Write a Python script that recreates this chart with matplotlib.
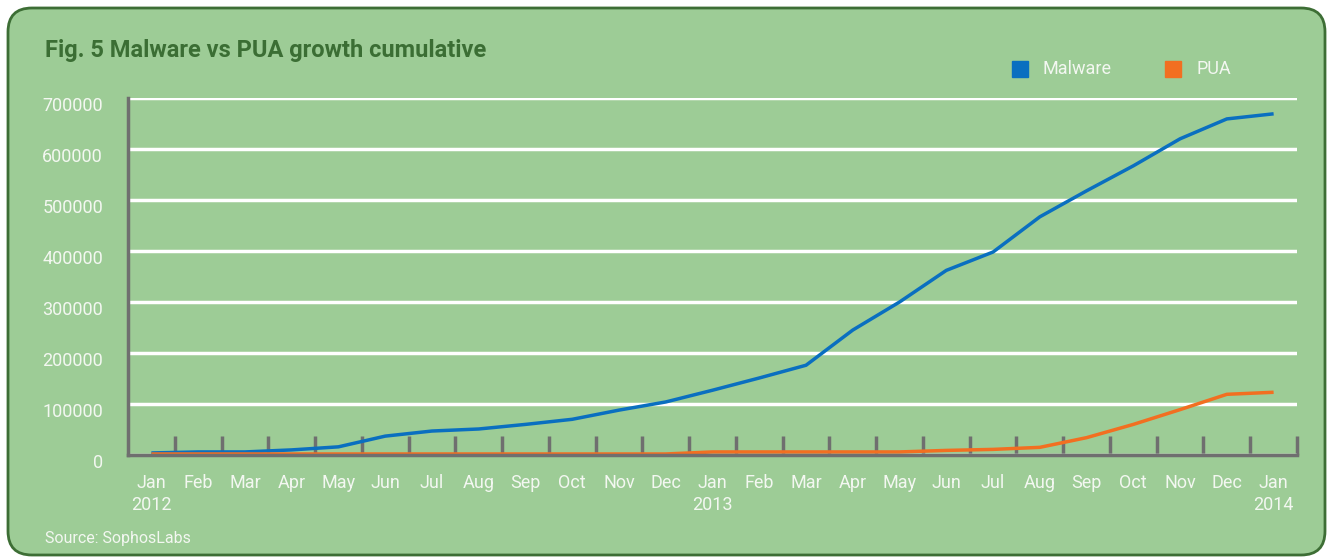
"""Fig. 5 Malware vs PUA growth cumulative (SophosLabs)."""

import matplotlib.pyplot as plt
import matplotlib.transforms as mtransforms
from matplotlib.patches import FancyBboxPatch

months = ["Jan", "Feb", "Mar", "Apr", "May", "Jun", "Jul", "Aug", "Sep",
          "Oct", "Nov", "Dec"] * 2 + ["Jan"]
years = {0: "2012", 12: "2013", 24: "2014"}

malware = [4000, 6000, 6000, 10000, 16000, 37000, 47000, 51000, 60000,
           70000, 88000, 104000, 127000, 151000, 176000, 245000, 300000,
           362000, 398000, 467000, 518000, 567000, 620000, 659000, 669000]
pua = [2000, 2000, 2000, 2000, 2000, 2000, 2000, 2000, 2000, 2000, 2000,
       2000, 6000, 6000, 6000, 6000, 6000, 9000, 11000, 15000, 34000,
       60000, 89000, 119000, 123000]

bg = "#9dcc96"
txt = "#f3f7f1"
blue = "#0a6fc0"
orange = "#f26f21"
axis_grey = "#6f6f6f"

W, H = 1327, 558
fig = plt.figure(figsize=(W / 100, H / 100), dpi=100)
fig.patch.set_facecolor("white")

# rounded green panel
box = FancyBboxPatch((8 / W, 3 / H), (W - 10) / W, (H - 11) / H,
                     boxstyle="round,pad=0,rounding_size=0.018",
                     transform=fig.transFigure, facecolor=bg,
                     edgecolor="#3d6e35", linewidth=2, mutation_aspect=W / H,
                     zorder=-5)
fig.patches.append(box)

ax = fig.add_axes([128 / W, 103 / H, (1297 - 128) / W, (455 - 98) / H])
ax.set_facecolor("none")
ax.set_zorder(2)

x = list(range(len(months)))
ax.plot(x, malware, color=blue, lw=2.5, zorder=3, solid_capstyle="butt")
ax.plot(x, pua, color=orange, lw=2.5, zorder=3, solid_capstyle="butt")

ax.set_xlim(-0.5, len(months) - 0.5)
ax.set_ylim(0, 700000)

ax.set_yticks(range(0, 700001, 100000))
ax.set_yticklabels([str(v) for v in range(0, 700001, 100000)])
ax.yaxis.grid(True, color="white", lw=2.5, zorder=1)
ax.set_axisbelow(True)
ax.tick_params(axis="y", length=0, pad=18, labelsize=13, labelcolor=txt)
offset = mtransforms.ScaledTranslation(0, -6 / 100, fig.dpi_scale_trans)
for lab in ax.get_yticklabels():
    lab.set_transform(lab.get_transform() + offset)
    lab.set_fontfamily("Roboto")

# boundaries get the tick marks, centres get the labels
ax.set_xticks([i + 0.5 for i in range(len(months))])
ax.set_xticklabels([])
ax.tick_params(axis="x", which="major", direction="in", length=14, width=2.5,
               color=axis_grey)
ax.set_xticks(x, minor=True)
ax.set_xticklabels([m + ("\n" + years[i] if i in years else "")
                    for i, m in enumerate(months)], minor=True)
ax.tick_params(axis="x", which="minor", length=0, pad=14, labelsize=13,
               labelcolor=txt)
for lab in ax.get_xticklabels(minor=True):
    lab.set_fontfamily("Roboto")
    lab.set_linespacing(1.25)
    lab.set_verticalalignment("top")

for side in ["top", "right"]:
    ax.spines[side].set_visible(False)
for side in ["left", "bottom"]:
    ax.spines[side].set_color(axis_grey)
    ax.spines[side].set_linewidth(2.5)
    ax.spines[side].set_zorder(4)

fig.text(45 / W, 1 - 50 / H, "Fig. 5 Malware vs PUA growth cumulative",
         fontsize=17, fontweight="bold", color="#3b6e34", va="center",
         family="Roboto")

# legend
for x0, col, name in [(1012, blue, "Malware"), (1165, orange, "PUA")]:
    fig.patches.append(plt.Rectangle((x0 / W, 1 - 77 / H), 16 / W, 16 / H,
                                     transform=fig.transFigure, color=col))
    fig.text((x0 + 31) / W, 1 - 69 / H, name, fontsize=13, color=txt,
             va="center", family="Roboto")

fig.text(45 / W, 1 - 538 / H, "Source: SophosLabs", fontsize=11.5,
         color=txt, va="center", family="Roboto")

fig.savefig("out.png", dpi=100, facecolor=fig.get_facecolor())
